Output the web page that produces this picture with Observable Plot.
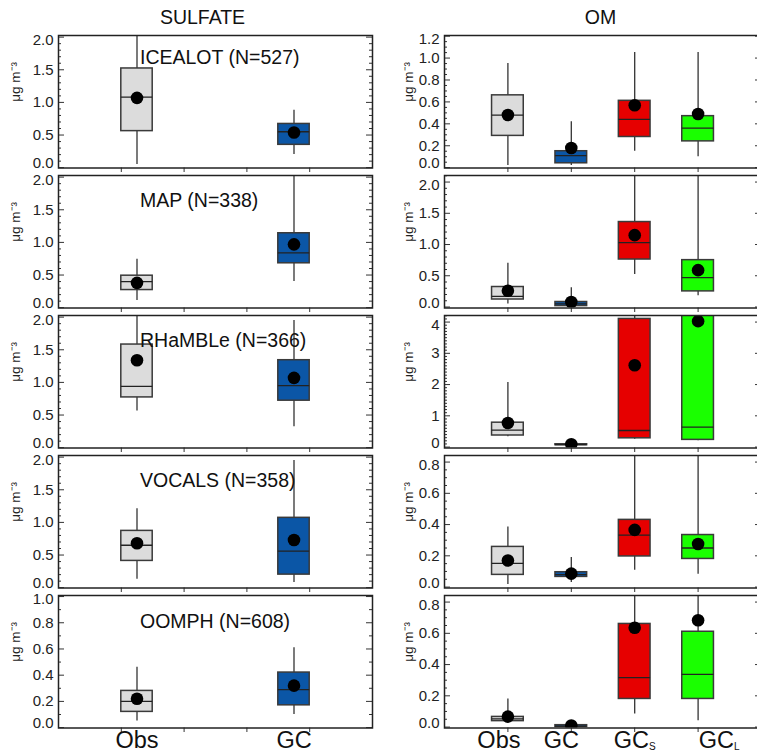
<!DOCTYPE html>
<html><head><meta charset="utf-8">
<script src="https://cdn.jsdelivr.net/npm/d3@7"></script>
<script src="https://cdn.jsdelivr.net/npm/@observablehq/plot@0.6"></script>
<style>
html,body{margin:0;padding:0;background:#fff;font-family:"Liberation Sans",Arial,sans-serif;}
#chart{position:relative;width:757px;height:752px;overflow:hidden;background:#fff;}
#chart svg{position:absolute;}
.title{position:absolute;top:7px;font-size:19.5px;line-height:20px;color:#111;transform:translateX(-50%);white-space:nowrap;}
</style></head>
<body><div id="chart"></div>
<script>
// ---------- data ----------
const campaigns = ["ICEALOT", "MAP", "RHaMBLe", "VOCALS", "OOMPH"];
const sampleN = [527, 338, 366, 358, 608];
const sulfateGroups = ["Obs", "GC"];
const omGroups = ["Obs", "GC", "GC_S", "GC_L"];

// SULFATE (µg m-3): one row per campaign, columns follow sulfateGroups
const sulfateMin  = [[0.05, 0.20], [0.11, 0.40], [0.56, 0.32], [0.13, 0.08], [0.05, 0.10]];
const sulfateQ1   = [[0.56, 0.35], [0.27, 0.68], [0.77, 0.72], [0.41, 0.20], [0.12, 0.17]];
const sulfateMed  = [[1.08, 0.55], [0.40, 0.84], [0.94, 0.95], [0.65, 0.56], [0.20, 0.29]];
const sulfateQ3   = [[1.52, 0.67], [0.49, 1.14], [1.58, 1.34], [0.87, 1.07], [0.28, 0.42]];
const sulfateMax  = [[2.60, 0.88], [0.74, 2.40], [2.40, 1.95], [1.21, 1.95], [0.46, 0.61]];
const sulfateMean = [[1.07, 0.54], [0.38, 0.97], [1.34, 1.07], [0.68, 0.73], [0.22, 0.32]];

// OM (µg m-3): one row per campaign, columns follow omGroups
const omMin  = [[0.02, 0.02, 0.15, 0.10], [0.05, 0.00, 0.52, 0.18], [0.33, 0.03, 0.25, 0.20], [0.017, 0.03, 0.107, 0.082], [0.03, 0.00, 0.084, 0.04]];
const omQ1   = [[0.29, 0.04, 0.28, 0.24], [0.12, 0.015, 0.76, 0.25], [0.37, 0.06, 0.28, 0.23], [0.078, 0.065, 0.196, 0.18], [0.038, 0.00, 0.18, 0.18]];
const omMed  = [[0.48, 0.11, 0.44, 0.36], [0.17, 0.05, 1.03, 0.47], [0.54, 0.075, 0.53, 0.64], [0.152, 0.08, 0.333, 0.25], [0.053, 0.006, 0.316, 0.337]];
const omQ3   = [[0.66, 0.15, 0.61, 0.47], [0.32, 0.08, 1.36, 0.75], [0.78, 0.09, 4.10, 4.60], [0.257, 0.095, 0.43, 0.333], [0.065, 0.012, 0.66, 0.61]];
const omMax  = [[0.95, 0.42, 1.05, 1.05], [0.70, 0.31, 2.60, 2.60], [2.07, 0.11, 5.00, 5.00], [0.385, 0.19, 0.95, 0.95], [0.18, 0.015, 0.95, 0.95]];
const omMean = [[0.48, 0.18, 0.57, 0.49], [0.26, 0.08, 1.15, 0.59], [0.77, 0.09, 2.62, 4.03], [0.17, 0.086, 0.366, 0.276], [0.067, 0.01, 0.636, 0.684]];

// axis ticks (tick labels)
const sulfateTicks = [[0, 0.5, 1, 1.5, 2], [0, 0.5, 1, 1.5, 2], [0, 0.5, 1, 1.5, 2], [0, 0.5, 1, 1.5, 2], [0, 0.2, 0.4, 0.6, 0.8, 1.0]];
const omTicks = [[0, 0.2, 0.4, 0.6, 0.8, 1.0, 1.2], [0, 0.5, 1, 1.5, 2], [0, 1, 2, 3, 4], [0, 0.2, 0.4, 0.6, 0.8], [0, 0.2, 0.4, 0.6, 0.8]];
const xTicks = [1, 2, 3, 4];
const yUnit = "μg m⁻³";

// ---------- layout / style ----------
const sulfateDomains = [[-0.005, 2.025], [-0.005, 2.025], [-0.005, 2.025], [-0.005, 2.025], [-0.003, 1.008]];
const omDomains = [[-0.003, 1.206], [-0.016, 2.105], [-0.03, 4.21], [-0.006, 0.842], [-0.006, 0.842]];
const sulfateMinorStep = [0.1, 0.1, 0.1, 0.1, 0.1];
const omMinorStep = [0.05, 0.1, 0.1, 0.05, 0.05];
const groupFill = {Obs: "#dcdcdc", GC: "#0b56a6", GC_S: "#e60000", GC_L: "#1aff00"};
const rowTops = [35, 175, 315, 455, 595];
const titleDy = [22.5, 25, 25, 25, 26.5];
const sulfateLabelDx = [0, 0];
const omLabelDx = [-9, -10, 0, 21];
const innerH = 132.5;

const chart = document.getElementById("chart");

function drawPanel({groups, xs, stats, domain, ticks, minorStep, fmt, left, width, marginLeft, marginRight, yLabelDx, title, tDy, labelDx, top, lastRow}) {
  const mt = 2, mb = lastRow ? 34 : 8;
  const innerW = width - marginLeft - marginRight;
  const data = groups.map((g, i) => ({g, x: xs[i], lo: stats.lo[i], q1: stats.q1[i], med: stats.med[i], q3: stats.q3[i], hi: stats.hi[i], mean: stats.mean[i]}));
  const minors = d3.range(0, domain[1] + 1e-9, minorStep).map(v => +v.toFixed(4))
    .filter(v => !ticks.some(t => Math.abs(t - v) < 1e-6));
  const tickStyle = {stroke: "#333", strokeWidth: 1};
  const labelStyle = {text: d => fmt(d), frameAnchor: "left", dx: -5, textAnchor: "end", fontSize: 15, fill: "#222"};
  const marks = [
    Plot.ruleX(data, {x: "x", y1: "lo", y2: "hi", stroke: "#333", strokeWidth: 1.3, clip: true}),
    Plot.rect(data, {x1: d => d.x - 0.25, x2: d => d.x + 0.25, y1: "q1", y2: "q3", fill: d => groupFill[d.g], stroke: "#3a3a3a", strokeWidth: 1.5, clip: true}),
    Plot.ruleY(data, {x1: d => d.x - 0.25, x2: d => d.x + 0.25, y: "med", stroke: "#222", strokeWidth: 1.3, clip: true}),
    Plot.dot(data, {x: "x", y: "mean", r: 6.3, fill: "#000", stroke: "none", clip: true}),
    Plot.ruleY(ticks, {y: d => d, insetRight: innerW - 6, ...tickStyle}),
    Plot.ruleY(ticks, {y: d => d, insetLeft: innerW - 6, ...tickStyle}),
    Plot.ruleY(minors, {y: d => d, insetRight: innerW - 3, ...tickStyle}),
    Plot.ruleY(minors, {y: d => d, insetLeft: innerW - 3, ...tickStyle}),
    Plot.ruleX(xTicks, {x: d => d, insetTop: innerH, insetBottom: -4.5, ...tickStyle}),
    Plot.frame({stroke: "#222", strokeWidth: 1.5}),
    Plot.text(ticks.slice(1, -1), {y: d => d, ...labelStyle}),
    Plot.text(ticks.slice(0, 1), {y: d => d, ...labelStyle, dy: -4}),
    Plot.text(ticks.slice(-1), {y: d => d, ...labelStyle, dy: 3}),
    Plot.text([yUnit], {frameAnchor: "left", rotate: -90, dx: yLabelDx, fontSize: 13.5, fill: "#222"})
  ];
  if (title) marks.push(Plot.text([title], {frameAnchor: "top-left", dx: 81.5, dy: tDy, textAnchor: "start", lineAnchor: "middle", fontSize: 19.5, fill: "#111"}));
  if (lastRow) data.forEach((d, i) => marks.push(Plot.text([d], {x: "x", text: "g", frameAnchor: "bottom", dy: 3.5, dx: labelDx[i], lineAnchor: "top", fontSize: 23.5, fill: "#111"})));
  const svg = Plot.plot({
    width, height: mt + innerH + mb,
    marginTop: mt, marginBottom: mb, marginLeft, marginRight,
    x: {domain: [0, 5], axis: null},
    y: {domain, axis: null},
    color: {type: "identity"},
    style: {background: "transparent", overflow: "visible", fontFamily: "'Liberation Sans', Arial, sans-serif"},
    marks
  });
  // subscripts for GC_S / GC_L
  d3.select(svg).selectAll("text").each(function () {
    const t = this.textContent;
    if (t.includes("_")) {
      const [base, sub] = t.split("_");
      this.textContent = base;
      d3.select(this).append("tspan").attr("font-size", 10).attr("dy", "0.2em").text(sub);
    }
  });
  svg.style.left = left + "px";
  svg.style.top = (top - mt) + "px";
  chart.appendChild(svg);
}

const f1 = d3.format(".1f"), f0 = d3.format("d");
campaigns.forEach((c, r) => {
  drawPanel({
    groups: sulfateGroups, xs: sulfateGroups.map((_, i) => 1.25 + 2.5 * i),
    stats: {lo: sulfateMin[r], q1: sulfateQ1[r], med: sulfateMed[r], q3: sulfateQ3[r], hi: sulfateMax[r], mean: sulfateMean[r]},
    domain: sulfateDomains[r], ticks: sulfateTicks[r], minorStep: sulfateMinorStep[r], fmt: f1,
    left: 0, width: 380, marginLeft: 58, marginRight: 8, yLabelDx: -43,
    title: `${c} (N=${sampleN[r]})`, tDy: titleDy[r], labelDx: sulfateLabelDx,
    top: rowTops[r], lastRow: r === campaigns.length - 1
  });
  drawPanel({
    groups: omGroups, xs: omGroups.map((_, i) => 1 + i),
    stats: {lo: omMin[r], q1: omQ1[r], med: omMed[r], q3: omQ3[r], hi: omMax[r], mean: omMean[r]},
    domain: omDomains[r], ticks: omTicks[r], minorStep: omMinorStep[r], fmt: r === 2 ? f0 : f1,
    left: 378, width: 390, marginLeft: 66, marginRight: 7, yLabelDx: -36,
    title: null, tDy: 0, labelDx: omLabelDx,
    top: rowTops[r], lastRow: r === campaigns.length - 1
  });
});

const t1 = document.createElement("div"); t1.className = "title"; t1.style.left = "202.5px"; t1.textContent = "SULFATE"; chart.appendChild(t1);
const t2 = document.createElement("div"); t2.className = "title"; t2.style.left = "600.5px"; t2.textContent = "OM"; chart.appendChild(t2);
</script>
</body></html>
